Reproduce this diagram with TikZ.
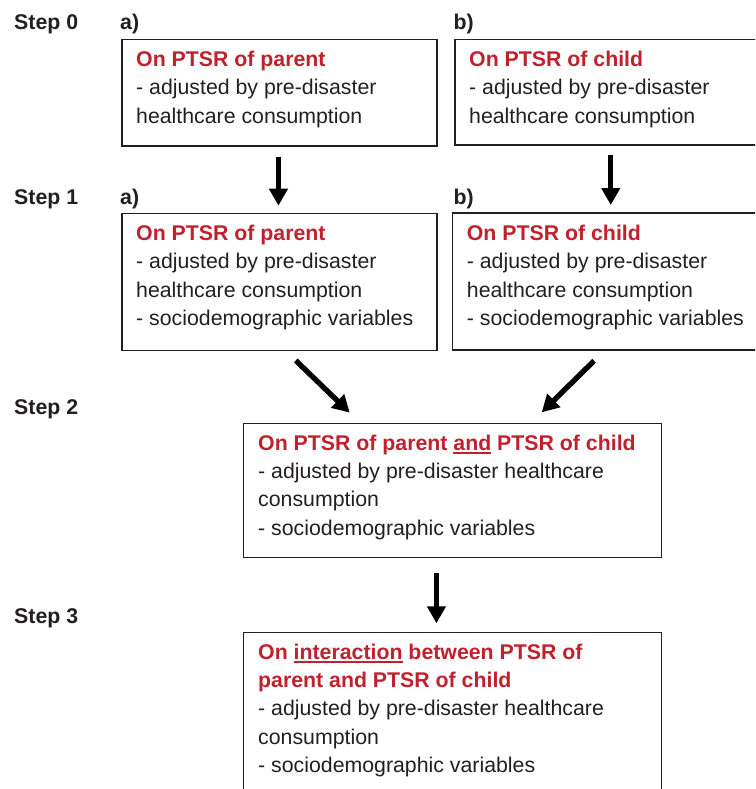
\documentclass[tikz,border=0pt]{standalone}
\usepackage{fontspec}
\setmainfont{Liberation Sans}
\usetikzlibrary{arrows.meta,calc}
\definecolor{txtgray}{RGB}{35,31,32}
\definecolor{titred}{RGB}{193,32,45}
\newcommand\myul[1]{\setbox0\hbox{#1}\rlap{\rule[-4pt]{\wd0}{2.3pt}}\box0{}}
\begin{document}
\begin{tikzpicture}[x=1pt,y=-1pt,
  boxstyle/.style={draw=txtgray,line width=1.5pt,rectangle,inner sep=0pt,anchor=north west},
  lbl/.style={font=\fontsize{21.3}{25}\selectfont\bfseries,text=txtgray,inner sep=0pt,anchor=base west},
  body/.style={font=\fontsize{21.3}{28.4}\selectfont,text=txtgray,inner sep=0pt,anchor=base west,align=left},
  arr/.style={line width=5.3pt,draw=black,-{Triangle[width=18pt,length=17pt]}}
]
\useasboundingbox (0,0) rectangle (755,789);
\clip (0,0) rectangle (755,789);
% step labels
\node[lbl] (st0) at (14,30) {Step 0};
\node[lbl] (st1) at (14,204) {Step 1};
\node[lbl] (st2) at (14,414) {Step 2};
\node[lbl] (st3) at (14,623) {Step 3};
\node[lbl] (la0) at (120,30) {a)};
\node[lbl] (lb0) at (453.3,30) {b)};
\node[lbl] (la1) at (120,204) {a)};
\node[lbl] (lb1) at (453.3,204) {b)};
% boxes
\node[boxstyle,minimum width=315pt,minimum height=106.3pt] (b0a) at (121,38.7) {};
\node[boxstyle,minimum width=312pt,minimum height=105.3pt] (b0b) at (454,38.7) {};
\node[boxstyle,minimum width=315pt,minimum height=137pt] (b1a) at (121,212.7) {};
\node[boxstyle,minimum width=316.6pt,minimum height=136.7pt] (b1b) at (451.7,212.3) {};
\node[boxstyle,minimum width=418pt,minimum height=134pt] (b2) at (242.7,422.7) {};
\node[boxstyle,minimum width=418pt,minimum height=200pt] (b3) at (242.7,631.7) {};
% texts (anchored at the baseline of the last line)
\node[body] (t0a) at (136,123.3) {{\bfseries\color{titred}On PTSR of parent}\\- adjusted by pre-disaster\\healthcare consumption};
\node[body] (t0b) at (469,123.3) {{\bfseries\color{titred}On PTSR of child}\\- adjusted by pre-disaster\\healthcare consumption};
\node[body] (t1a) at (136,325.4) {{\bfseries\color{titred}On PTSR of parent}\\- adjusted by pre-disaster\\healthcare consumption\\- sociodemographic variables};
\node[body] (t1b) at (466.7,325.4) {{\bfseries\color{titred}On PTSR of child}\\- adjusted by pre-disaster\\healthcare consumption\\- sociodemographic variables};
\node[body] (t2) at (258,535.2) {{\bfseries\color{titred}On PTSR of parent \myul{and} PTSR of child}\\- adjusted by pre-disaster healthcare\\consumption\\- sociodemographic variables};
\node[body] (t3) at (258,772.6) {{\bfseries\color{titred}On \myul{interaction} between PTSR of}\\{\bfseries\color{titred}parent and PTSR of child}\\- adjusted by pre-disaster healthcare\\consumption\\- sociodemographic variables};
% arrows
\draw[arr] ([xshift=-0.8pt,yshift=-10pt]b0a.south) -- ([xshift=-0.8pt,yshift=7pt]b1a.north);
\draw[arr] ([yshift=-9pt]b0b.south) -- ([yshift=7.3pt]b1b.north);
\draw[arr] ([xshift=16.5pt,yshift=-9.3pt]b1a.south) -- ([xshift=-102.7pt,yshift=10pt]b2.north);
\draw[arr] ([xshift=-16.7pt,yshift=-10.3pt]b1b.south) -- ([xshift=89.3pt,yshift=10.4pt]b2.north);
\draw[arr] ([xshift=-16pt,yshift=-15pt]b2.south) -- ([xshift=-16pt,yshift=8.4pt]b3.north);
\end{tikzpicture}
\end{document}
